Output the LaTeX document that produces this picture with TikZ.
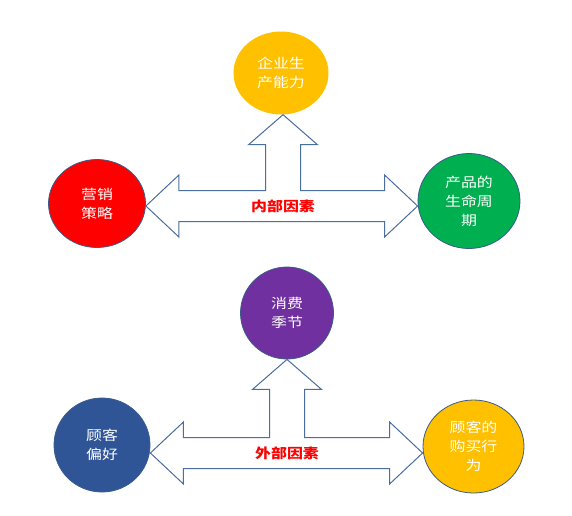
\documentclass[tikz,border=0pt]{standalone}
\usepackage{fontspec}
\usepackage{xcolor}
\usepackage{tikz}
\usetikzlibrary{positioning,calc,shapes.geometric}
\newfontfamily\cjk[FakeStretch=1.18]{Noto Sans CJK SC}

\definecolor{ringline}{RGB}{56,93,138}
\definecolor{arrowline}{RGB}{74,110,158}
\definecolor{sunyellow}{RGB}{255,192,0}
\definecolor{strongred}{RGB}{255,0,0}
\definecolor{leafgreen}{RGB}{0,176,80}
\definecolor{deeppurple}{RGB}{112,48,160}
\definecolor{navyblue}{RGB}{47,85,151}

\tikzset{
  factor/.style={ellipse, inner sep=0pt, align=center, text=white,
                 font=\cjk\fontsize{13.5}{19}\selectfont},
  ringed/.style={draw=ringline, line width=0.8pt},
  blockarrow/.style={draw=arrowline, line width=1pt, fill=white, line join=miter},
  hubtext/.style={text=strongred, font=\cjk\bfseries\fontsize{13.5}{16}\selectfont}
}

\begin{document}
\begin{tikzpicture}[x=1pt,y=-1pt]
    \useasboundingbox (0,0) rectangle (572,515);

    % Internal factors
    \node[factor, fill=sunyellow, minimum width=95, minimum height=83] (capacity) at (281,73) {企业生\\产能力};
    \node[factor, ringed, fill=strongred, minimum width=97, minimum height=88] (marketing) at (97,203.5) {营销\\策略};
    \node[factor, ringed, fill=leafgreen, minimum width=102, minimum height=95] (lifecycle) at (469,201) {产品的\\生命周\\期};

    \coordinate (hubA) at (283,206);
    \coordinate (tipAL) at (marketing.east |- hubA);
    \coordinate (tipAR) at (lifecycle.west |- hubA);
    \coordinate (tipAT) at (hubA |- capacity.south);
    \draw[blockarrow] (tipAL) -- ++(33,-31) -- ++(0,15.5) -- ($(hubA)+(-17.5,-15.5)$) --
        ($(tipAT)+(-17.5,30)$) -- ++(-17,0) -- (tipAT) -- ++(34.5,30) -- ++(-17,0) --
        ($(hubA)+(17.5,-15.5)$) -- ($(tipAR)+(-33,-15.5)$) -- ++(0,-15.5) -- (tipAR) --
        ++(-33,31) -- ++(0,-15.5) -- ($(tipAL)+(33,15.5)$) -- ++(0,15.5) -- cycle;
    \node[hubtext] (inner) at (hubA) {内部因素};

    % External factors
    \node[factor, ringed, fill=deeppurple, minimum width=93, minimum height=92] (season) at (287,313) {消费\\季节};
    \node[factor, ringed, fill=navyblue, minimum width=96, minimum height=94] (taste) at (102,445) {顾客\\偏好};
    \node[factor, ringed, fill=sunyellow, minimum width=101, minimum height=93] (buying) at (473.5,446.5) {顾客的\\购买行\\为};

    \coordinate (hubB) at (287,453);
    \coordinate (tipBL) at (taste.east |- hubB);
    \coordinate (tipBR) at (buying.west |- hubB);
    \coordinate (tipBT) at (hubB |- season.south);
    \draw[blockarrow] (tipBL) -- ++(33,-31) -- ++(0,15.5) -- ($(hubB)+(-17.5,-15.5)$) --
        ($(tipBT)+(-17.5,30)$) -- ++(-17,0) -- (tipBT) -- ++(34.5,30) -- ++(-17,0) --
        ($(hubB)+(17.5,-15.5)$) -- ($(tipBR)+(-33,-15.5)$) -- ++(0,-15.5) -- (tipBR) --
        ++(-33,31) -- ++(0,-15.5) -- ($(tipBL)+(33,15.5)$) -- ++(0,15.5) -- cycle;
    \node[hubtext] (outer) at (hubB) {外部因素};
\end{tikzpicture}
\end{document}
